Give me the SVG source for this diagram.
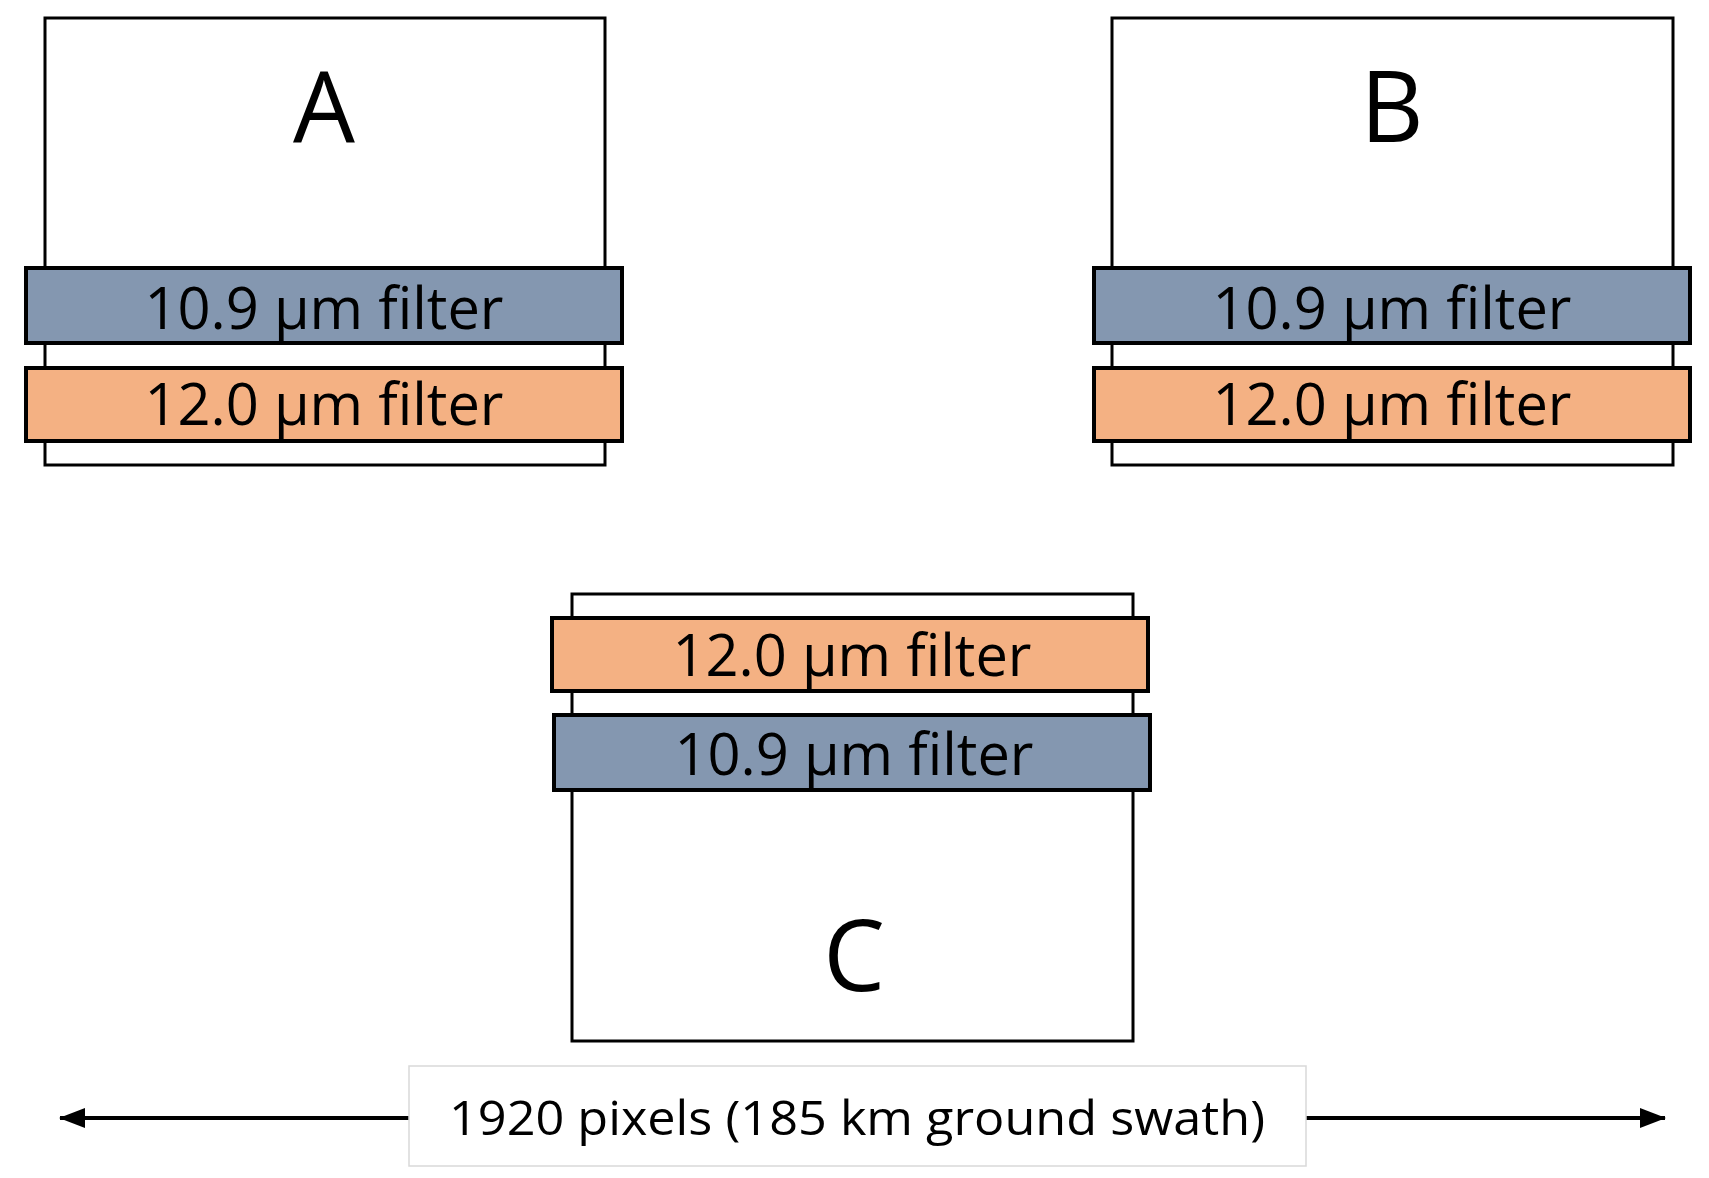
<svg xmlns="http://www.w3.org/2000/svg" width="1709" height="1178" viewBox="0 0 1709 1178">
<style>
.box{fill:#fff;stroke:#000;stroke-width:3}
.blue{fill:#8497B0;stroke:#000;stroke-width:4}
.orange{fill:#F4B183;stroke:#000;stroke-width:4}
.ft{font-family:"Open Sans","Liberation Sans",sans-serif;font-size:58px;text-anchor:middle;fill:#000}
.big{font-family:"Open Sans","Liberation Sans",sans-serif;font-size:98px;text-anchor:middle;fill:#000}
.lbl{font-family:"Open Sans","Liberation Sans",sans-serif;font-size:48px;text-anchor:middle;fill:#000}
</style>
<defs><marker id="ah" markerWidth="10" markerHeight="8" refX="9" refY="4" orient="auto" markerUnits="userSpaceOnUse"><path d="M0,0 L10,4 L0,8 Z" fill="#000"/></marker>
<marker id="ah2" markerWidth="26" markerHeight="20" refX="25" refY="10" orient="auto" markerUnits="userSpaceOnUse"><path d="M0,0 L26,10 L0,20 Z" fill="#000"/></marker></defs>
<g id="A">
<rect class="box" x="45" y="18" width="560" height="447"/>
<text class="big" x="324" y="142">A</text>
<rect class="blue" x="26" y="268" width="596" height="75"/>
<text class="ft" x="324" y="329" textLength="359" lengthAdjust="spacingAndGlyphs">10.9 µm filter</text>
<rect class="orange" x="26" y="368" width="596" height="73"/>
<text class="ft" x="324" y="425" textLength="359" lengthAdjust="spacingAndGlyphs">12.0 µm filter</text>
</g>
<g id="B">
<rect class="box" x="1112" y="18" width="561" height="447"/>
<text class="big" x="1392" y="142">B</text>
<rect class="blue" x="1094" y="268" width="596" height="75"/>
<text class="ft" x="1392" y="329" textLength="359" lengthAdjust="spacingAndGlyphs">10.9 µm filter</text>
<rect class="orange" x="1094" y="368" width="596" height="73"/>
<text class="ft" x="1392" y="425" textLength="359" lengthAdjust="spacingAndGlyphs">12.0 µm filter</text>
</g>
<g id="C">
<rect class="box" x="572" y="594" width="561" height="447"/>
<text class="big" x="854" y="991">C</text>
<rect class="orange" x="552" y="618" width="596" height="73"/>
<text class="ft" x="852" y="676" textLength="359" lengthAdjust="spacingAndGlyphs">12.0 µm filter</text>
<rect class="blue" x="554" y="715" width="596" height="75"/>
<text class="ft" x="854" y="775" textLength="359" lengthAdjust="spacingAndGlyphs">10.9 µm filter</text>
</g>
<g id="connectors">
<line x1="409" y1="1118" x2="60" y2="1118" stroke="#000" stroke-width="4" marker-end="url(#ah2)"/>
<line x1="1306" y1="1118" x2="1665" y2="1118" stroke="#000" stroke-width="4" marker-end="url(#ah2)"/>
</g>
<g id="label">
<rect x="409" y="1066" width="897" height="100" fill="#fff" stroke="#d9d9d9" stroke-width="1.5"/>
<text class="lbl" x="857" y="1135" textLength="816" lengthAdjust="spacingAndGlyphs">1920 pixels (185 km ground swath)</text>
</g>
</svg>
